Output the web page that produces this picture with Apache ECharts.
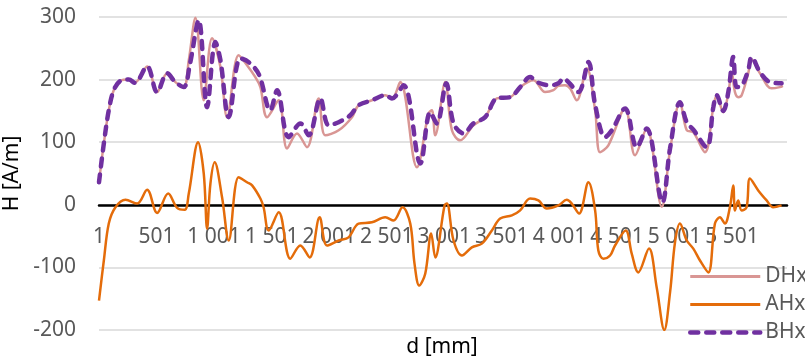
<!DOCTYPE html>
<html>
<head>
<meta charset="utf-8">
<script src="https://cdn.jsdelivr.net/npm/echarts@6/dist/echarts.min.js"></script>
<style>
  html, body { margin: 0; padding: 0; background: #fff; }
  #chart { width: 805px; height: 361px; }
</style>
</head>
<body>
<div id="chart"></div>
<script>
// sample index (0 = category "1"), values in A/m
const dhxPos = [0, 42, 85, 128, 187, 259, 311, 418, 505, 592, 664, 736, 780, 838, 910, 982, 1055, 1113, 1213, 1286, 1358, 1402, 1460, 1561, 1634, 1720, 1807, 1908, 1966, 2082, 2198, 2255, 2371, 2487, 2545, 2617, 2762, 2863, 2892, 2921, 3008, 3066, 3138, 3253, 3355, 3456, 3572, 3659, 3774, 3876, 3948, 3991, 4049, 4093, 4151, 4238, 4310, 4353, 4425, 4570, 4657, 4758, 4889, 4961, 5047, 5106, 5163, 5264, 5337, 5366, 5423, 5467, 5496, 5525, 5553, 5583, 5640, 5670, 5742, 5843, 5915, 5941];
const dhxVal = [36, 98, 151, 183, 198, 200, 195, 221, 180, 210, 196, 188, 231, 299, 167, 266, 220, 140, 239, 223, 204, 188, 140, 167, 90, 114, 92, 170, 111, 119, 140, 159, 167, 175, 170, 196, 60, 146, 151, 111, 196, 119, 103, 127, 140, 170, 172, 188, 199, 180, 183, 190, 191, 186, 167, 218, 151, 84, 95, 154, 79, 122, -3, 87, 164, 119, 116, 84, 156, 175, 148, 178, 212, 180, 172, 175, 210, 232, 210, 186, 188, 190];

const ahxPos = [0, 42, 85, 143, 230, 332, 418, 505, 601, 679, 745, 780, 861, 910, 939, 968, 1005, 1069, 1127, 1213, 1286, 1330, 1402, 1430, 1474, 1561, 1662, 1749, 1830, 1917, 1981, 2082, 2168, 2255, 2371, 2487, 2559, 2637, 2704, 2741, 2782, 2834, 2886, 2921, 3002, 3022, 3080, 3153, 3239, 3326, 3413, 3485, 3587, 3659, 3745, 3817, 3890, 3991, 4064, 4107, 4171, 4252, 4310, 4338, 4382, 4440, 4483, 4576, 4628, 4685, 4778, 4845, 4911, 4961, 5004, 5047, 5106, 5163, 5221, 5293, 5351, 5394, 5437, 5481, 5510, 5525, 5553, 5583, 5626, 5655, 5727, 5800, 5857, 5930];
const ahxVal = [-153, -89, -30, -4, 8, 2, 24, -13, 18, -5, -8, 18, 100, 50, -38, 34, 68, 12, -57, 44, 36, 31, 10, -4, -41, -12, -86, -65, -84, -20, -65, -57, -52, -30, -28, -20, -25, -4, -30, -94, -129, -110, -46, -84, -1, 2, -57, -81, -68, -62, -41, -22, -17, -9, 10, 7, -6, -1, 8, 2, -14, 36, -9, -73, -86, -81, -65, -41, -78, -108, -70, -132, -200, -140, -60, -30, -57, -70, -89, -108, -30, -20, -30, -4, 31, -9, 7, -9, -4, 42, 23, 7, -4, -1];

const bhxPos = [0, 42, 85, 128, 187, 259, 311, 418, 505, 592, 664, 736, 790, 866, 939, 1011, 1055, 1127, 1228, 1300, 1390, 1488, 1547, 1648, 1750, 1822, 1923, 1995, 2082, 2183, 2255, 2371, 2487, 2545, 2646, 2792, 2878, 2935, 3017, 3080, 3167, 3253, 3355, 3456, 3572, 3659, 3746, 3804, 3919, 3991, 4034, 4078, 4165, 4252, 4310, 4397, 4455, 4570, 4672, 4758, 4894, 4961, 5047, 5106, 5163, 5279, 5337, 5366, 5423, 5467, 5510, 5539, 5583, 5640, 5670, 5742, 5829, 5930];
const bhxVal = [36, 98, 151, 183, 198, 200, 195, 221, 180, 210, 196, 188, 225, 295, 156, 260, 231, 140, 234, 228, 208, 151, 183, 108, 130, 111, 170, 127, 132, 143, 159, 167, 175, 170, 191, 66, 148, 130, 194, 130, 114, 130, 140, 170, 172, 188, 204, 196, 191, 194, 202, 196, 180, 228, 160, 108, 119, 154, 92, 122, 4, 90, 164, 132, 120, 92, 156, 175, 150, 180, 236, 188, 190, 215, 236, 212, 196, 194];

const yTicks = [-200, -100, 0, 100, 200, 300];
const xLastIndex = 5977;

const zip = (xs, ys) => xs.map((x, i) => [x, ys[i]]);
const fmtIndex = (v) => {
  const n = Math.round(v) + 1;
  if (n < 1000) return String(n);
  return Math.floor(n / 1000) + ' ' + String(n % 1000).padStart(3, '0');
};

const chart = echarts.init(document.getElementById('chart'));
const txtFont = "'Noto Sans', 'Open Sans', sans-serif";

// plot area: y=-200 at 330px, y=300 at 17px -> zero sits 125.7px above the bottom
const plotH = 330 - 17;
const zeroOffset = plotH * (0 - yTicks[0]) / (yTicks[yTicks.length - 1] - yTicks[0]);

const option = {
  animation: false,
  grid: {
    left: 99,
    right: 18,
    top: 17,
    bottom: 31,
    outerBoundsMode: 'none'
  },
  legend: {
    orient: 'vertical',
    left: 688,
    top: 266,
    padding: 0,
    itemWidth: 70,
    itemHeight: 14,
    itemGap: 7,
    data: [
      { name: 'DHx', lineStyle: { width: 3 } },
      { name: 'AHx', lineStyle: { width: 3 } },
      { name: 'BHx', lineStyle: { width: 4.5 } }
    ],
    itemStyle: { opacity: 0 },
    textStyle: {
      fontFamily: txtFont,
      fontSize: 21,
      color: '#595959'
    }
  },
  graphic: [{
    type: 'text',
    x: 442,
    y: 347,
    style: {
      text: 'd [mm]',
      font: "21px 'Noto Sans', 'Open Sans', sans-serif",
      fill: '#000',
      align: 'center',
      verticalAlign: 'middle'
    }
  }],
  xAxis: {
    type: 'value',
    min: 0,
    max: xLastIndex,
    interval: 500,
    offset: -zeroOffset,
    axisLine: {
      onZero: false,
      lineStyle: { color: '#000', width: 2.5 }
    },
    axisTick: { show: false },
    splitLine: { show: false },
    axisLabel: {
      showMaxLabel: false,
      margin: 22,
      fontFamily: txtFont,
      fontSize: 21,
      color: '#595959',
      formatter: fmtIndex
    }
  },
  yAxis: {
    type: 'value',
    min: yTicks[0],
    max: yTicks[yTicks.length - 1],
    interval: 100,
    name: 'H [A/m]',
    nameLocation: 'middle',
    nameGap: 65,
    nameTextStyle: {
      fontFamily: txtFont,
      fontSize: 21,
      color: '#000'
    },
    axisLine: { show: false },
    axisTick: { show: false },
    axisLabel: {
      margin: 23,
      fontFamily: txtFont,
      fontSize: 21,
      color: '#595959'
    },
    splitLine: {
      lineStyle: { color: '#d9d9d9', width: 1.5 }
    }
  },
  series: [
    {
      name: 'DHx',
      type: 'line',
      data: zip(dhxPos, dhxVal),
      symbol: 'none',
      smooth: 0.35,
      itemStyle: { color: '#d99694' },
      lineStyle: { color: '#d99694', width: 2.5 }
    },
    {
      name: 'AHx',
      type: 'line',
      data: zip(ahxPos, ahxVal),
      symbol: 'none',
      smooth: 0.35,
      itemStyle: { color: '#e46c0a' },
      lineStyle: { color: '#e46c0a', width: 2.5 }
    },
    {
      name: 'BHx',
      type: 'line',
      data: zip(bhxPos, bhxVal),
      symbol: 'none',
      smooth: 0.35,
      itemStyle: { color: '#7030a0' },
      lineStyle: { color: '#7030a0', width: 4.5, type: [8, 8], cap: 'round' }
    }
  ]
};

chart.setOption(option);
</script>
</body>
</html>
